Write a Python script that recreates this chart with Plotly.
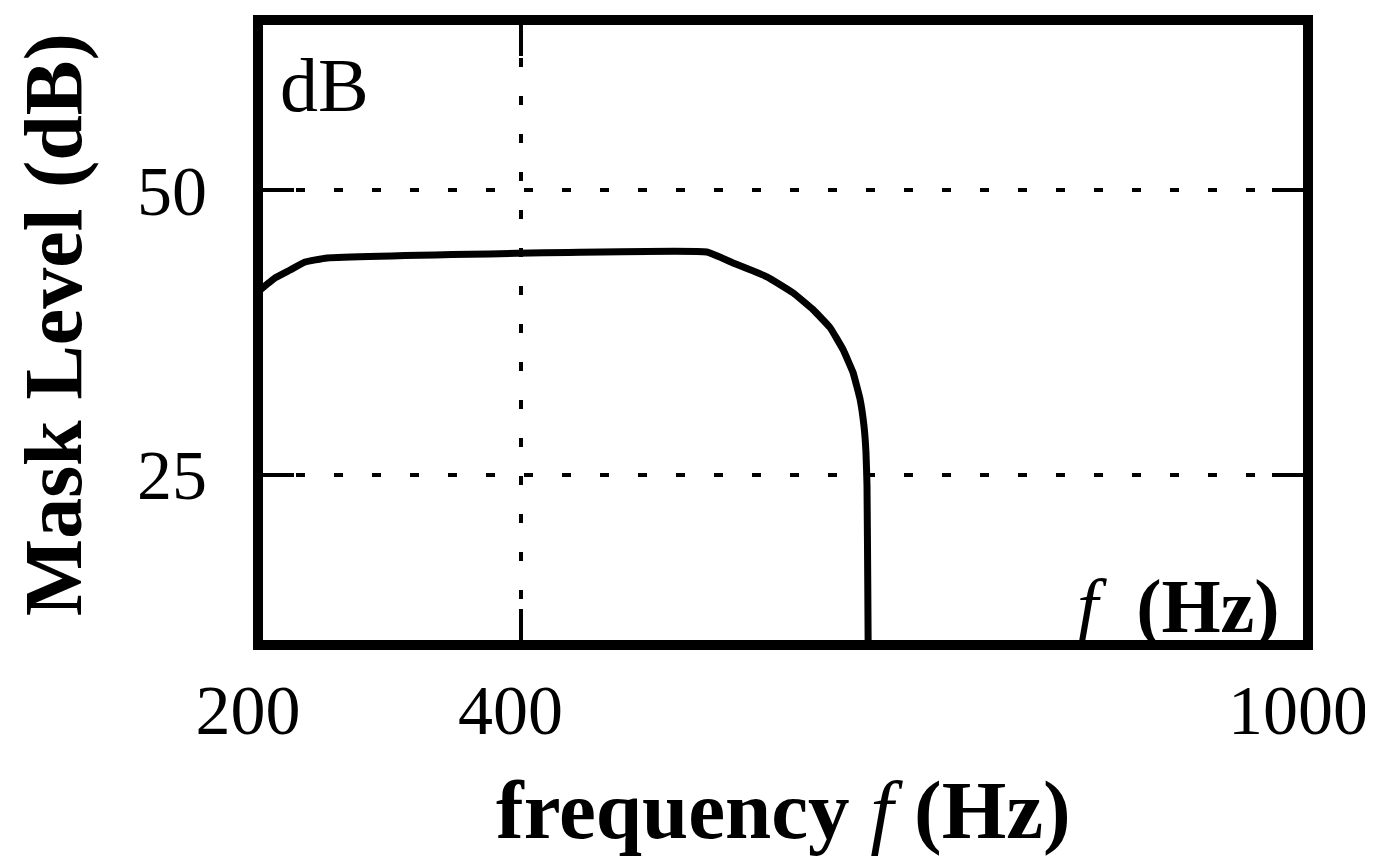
import plotly.graph_objects as go

# Data
freq_hz = [200, 213, 224.4, 235.8, 252.6, 542, 561.9, 587.8, 607.6, 622.9, 635.8,
           645.7, 653.3, 658.7, 661.7, 663.2, 664.0, 664.6, 665.0]
mask_db = [41.08, 42.3, 43.0, 43.7, 44.06, 44.58, 43.62, 42.40, 41.0, 39.51, 37.94,
           36.01, 34.0, 31.64, 29.28, 27.0, 24.04, 15.0, 8.0]

x_ticks = [200, 400, 1000]
x_tick_text = ["200", "400", "1000"]
y_ticks = [25, 50]
y_tick_text = ["25", "50"]

FONT = "Liberation Serif"

fig = go.Figure()
fig.add_trace(go.Scatter(x=freq_hz, y=mask_db, mode="lines",
                         line=dict(color="black", width=7, shape="spline", smoothing=0.3),
                         showlegend=False, cliponaxis=True))

axis_common = dict(ticks="inside", ticklen=36, tickwidth=4, tickcolor="black",
                   mirror="ticks", showline=False, zeroline=False,
                   showgrid=True, gridcolor="black", gridwidth=4, griddash="9px,29px",
                   ticklabeloverflow="allow",
                   tickfont=dict(size=70, family=FONT))

fig.update_layout(
    width=1373, height=861,
    margin=dict(l=250, r=73, t=12, b=224),
    paper_bgcolor="white", plot_bgcolor="white",
    font=dict(family=FONT, color="black", size=70),
    xaxis=dict(range=[200, 1000], tickvals=x_ticks, ticktext=x_tick_text,
               ticklabelstandoff=18, ticklabelshift=-10, **axis_common),
    yaxis=dict(range=[10, 65], tickvals=y_ticks, ticktext=y_tick_text,
               ticklabelstandoff=50, **axis_common),
    shapes=[dict(type="rect", xref="paper", yref="paper", x0=0, y0=0, x1=1, y1=1,
                 line=dict(color="black", width=10), layer="above")],
    annotations=[
        dict(text="<b>frequency</b> <i>f</i> <b>(Hz)</b>", xref="paper", yref="paper",
             x=0.5, y=-0.264, xanchor="center", yanchor="middle", showarrow=False,
             font=dict(size=83, family=FONT)),
        dict(text="<b>Mask Level (dB)</b>", xref="paper", yref="paper",
             x=-0.195, y=0.512, xanchor="center", yanchor="middle", showarrow=False,
             textangle=-90, font=dict(size=82, family=FONT)),
        dict(text="dB", xref="paper", yref="paper", x=0.019, y=0.896,
             xanchor="left", yanchor="middle", showarrow=False,
             font=dict(size=76, family=FONT)),
        dict(text="<i>f</i>&nbsp; <b>(Hz)</b>", xref="paper", yref="paper", x=0.975, y=0.062,
             xanchor="right", yanchor="middle", showarrow=False,
             font=dict(size=76, family=FONT)),
    ],
)

fig.write_html("out.html")
